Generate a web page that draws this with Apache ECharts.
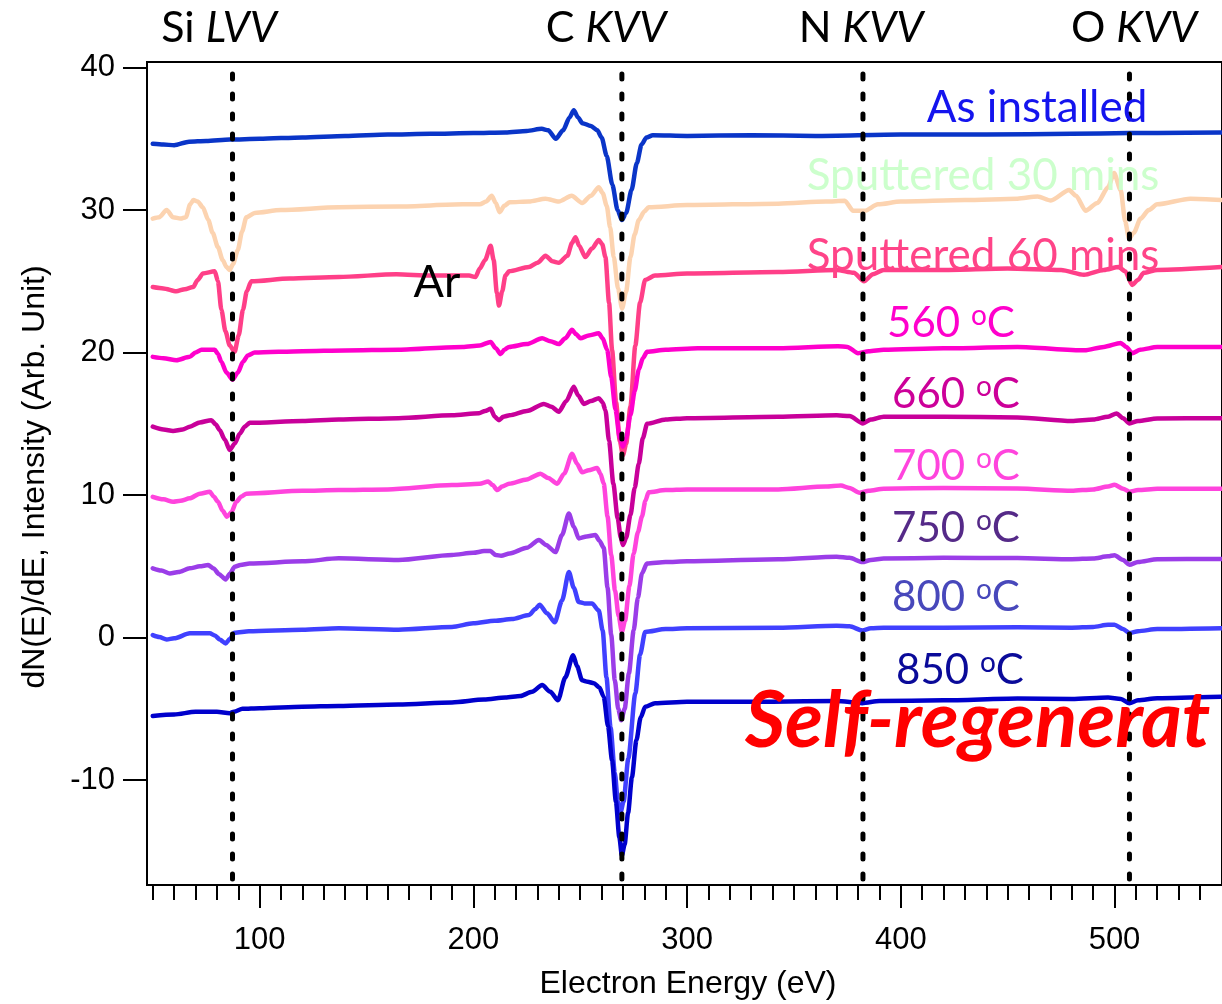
<!DOCTYPE html>
<html><head><meta charset="utf-8">
<script src="https://cdn.jsdelivr.net/npm/echarts@6/dist/echarts.min.js"></script>
<style>html,body{margin:0;padding:0;background:#fff}#c{width:1222px;height:1004px}</style>
</head><body><div id="c"></div>
<script>
// ---- data (energy eV, dN/dE) ----
const asInstalled = [[50,34.65],[55,34.6],[60,34.55],[67,34.8],[75,34.85],[86,34.95],[100,35.0],[120,35.1],[140,35.2],[160,35.3],[180,35.35],[200,35.4],[215,35.45],[225,35.55],[232,35.7],[235,35.6],[238.6,35.0],[242,35.6],[245,36.5],[247,37.0],[249,36.5],[251,36.1],[255,35.9],[258,35.6],[260,35.1],[262.4,33.8],[265,31.8],[267.5,30.0],[269.5,29.3],[271.5,29.8],[274,31.4],[276.5,33.3],[278.7,34.6],[281,35.1],[284,35.25],[300,35.2],[330,35.25],[360,35.2],[400,35.3],[440,35.3],[480,35.35],[507,35.4],[520,35.4],[550,35.45]];
const sputtered30 = [[50,29.4],[53,29.5],[56.5,30.0],[59.5,29.5],[63,29.4],[65.5,29.5],[67.5,30.4],[69,30.7],[71,30.6],[73.4,30.2],[76,29.3],[78,28.4],[80.5,27.4],[82.7,26.5],[84.5,26.0],[86,25.8],[87.5,26.2],[89.8,27.2],[91.8,28.5],[93.8,29.5],[97.7,29.8],[110,30.0],[137,30.2],[165,30.25],[195,30.4],[203,30.4],[206,30.6],[208.6,31.0],[210.5,30.5],[212.3,29.85],[214.5,30.3],[217,30.55],[226,30.6],[233.8,30.8],[240,30.6],[246,31.0],[250.9,30.5],[255,31.0],[258.7,31.6],[260.5,31.2],[262.4,30.3],[264,28.8],[265.7,26.7],[267.7,24.5],[269.6,23.1],[271.5,24.3],[273.5,26.7],[275.5,28.3],[277.4,29.3],[280,29.9],[282,30.2],[300,30.35],[342.7,30.45],[365,30.6],[373.8,30.65],[377.7,29.95],[383.1,29.95],[389.3,30.4],[400,30.6],[430,30.7],[454.6,30.8],[464,30.95],[470.2,30.67],[478.8,31.4],[482,31.0],[486.5,29.96],[492,30.5],[497,31.6],[499.8,32.6],[502.9,31.4],[505,29.2],[506.8,28.0],[509,28.4],[512.2,29.4],[516,30.0],[520,30.4],[535.5,30.8],[550,30.7]];
const sputtered60 = [[50,24.6],[55,24.5],[61,24.3],[65,24.45],[68.9,24.6],[71,25.1],[73.5,25.55],[79,25.7],[80.5,25.0],[82.1,23.0],[84,21.5],[86,20.5],[88.3,20.05],[90.2,21.2],[92.2,23.0],[94,24.3],[96.1,25.0],[114,25.2],[137,25.3],[164,25.5],[180,25.4],[198,25.4],[201,25.3],[203,25.9],[205.5,26.5],[208.1,27.5],[209.5,26.5],[211,24.2],[212,23.3],[213.5,24.3],[215,25.4],[216.7,25.7],[226,26.0],[230,26.3],[233.8,26.8],[237,26.4],[240,26.3],[244,26.8],[246.2,27.7],[247.8,28.1],[249.5,27.5],[252.4,26.7],[255.5,27.3],[258.7,27.9],[260.3,27.6],[261.8,26.7],[263.5,23.5],[264.9,20.2],[266.8,16.5],[268.5,13.8],[270,12.8],[271.5,13.6],[273.5,16.2],[275.8,20.5],[278,23.5],[280.4,25.1],[285,25.4],[300,25.55],[342.7,25.65],[370,25.8],[378,25.6],[382.8,25.0],[387,25.5],[392,25.8],[420,25.8],[450,25.9],[475,25.8],[485.7,25.46],[495,25.8],[502,26.0],[505,25.7],[508.3,24.75],[511,25.1],[513.7,25.6],[520,25.8],[550,26.0]];
const t560 = [[50,19.7],[55,19.6],[61.1,19.47],[67.3,19.7],[70,20.0],[72.8,20.2],[79,20.2],[80.5,19.9],[82.1,19.35],[84.5,18.6],[87.3,18.1],[89.8,18.6],[92.2,19.35],[94.5,19.8],[97.7,20.0],[120,20.1],[140,20.15],[165,20.2],[195,20.4],[203,20.5],[208.1,20.75],[210.5,20.3],[212.8,19.9],[214.5,20.2],[216.7,20.4],[225,20.6],[232.2,21.0],[236,20.8],[240,20.6],[243,21.0],[246.2,21.6],[248,21.3],[250.1,21.0],[254,21.2],[258.7,21.35],[260.5,21.0],[262.6,20.2],[264.5,18.3],[266.5,16.0],[268.5,14.0],[270,13.4],[271.5,14.0],[273.5,15.6],[275.5,17.3],[277.4,18.8],[279.3,19.6],[281.3,20.05],[290,20.2],[305,20.3],[342.7,20.3],[370.6,20.44],[375,20.4],[380,19.96],[385,20.1],[392,20.2],[420,20.3],[454.6,20.39],[486,20.16],[495,20.4],[502.9,20.67],[505.5,20.4],[508.3,19.96],[512,20.2],[520,20.39],[550,20.4]];
const t660 = [[50,14.8],[55,14.6],[59.5,14.5],[64,14.6],[67.3,14.8],[72,15.1],[77.4,15.26],[79.5,14.95],[81.3,14.56],[83.7,13.9],[86,13.16],[88.3,13.6],[90.7,14.3],[93,14.8],[95.3,15.07],[120,15.2],[137,15.3],[165,15.4],[190,15.6],[202.7,15.75],[205.5,15.9],[208.1,16.05],[210,15.5],[212,15.26],[214,15.5],[217,15.6],[225,15.9],[233,16.4],[236.5,16.2],[240,15.85],[243.5,16.6],[247,17.6],[249,17.0],[251.7,16.4],[255,16.6],[258.7,16.8],[260.5,16.5],[261.8,15.96],[263.5,13.8],[265.5,10.8],[267.5,8.4],[269,7.0],[270,6.5],[271.5,7.0],[273.5,8.6],[275.5,10.5],[277.4,12.2],[279.3,14.0],[281.3,15.0],[290,15.3],[300,15.4],[342.7,15.5],[370,15.6],[376,15.55],[382.3,15.03],[386,15.3],[392,15.5],[420,15.5],[454.6,15.45],[480,15.2],[490,15.3],[497,15.5],[501,15.73],[504,15.4],[507,15.03],[511,15.2],[520,15.38],[550,15.4]];
const t700 = [[50,9.88],[55,9.7],[59.5,9.53],[63,9.6],[67.3,9.77],[72,10.1],[76.7,10.23],[78.5,9.9],[80.5,9.53],[82.7,8.9],[84.7,8.48],[86.8,8.8],[89.1,9.53],[91.5,9.9],[93.8,10.1],[120,10.3],[137,10.35],[160,10.4],[190,10.7],[203,10.8],[207,10.95],[209,10.7],[211.2,10.35],[213.5,10.6],[216.7,10.8],[225,11.1],[231.4,11.5],[235,11.2],[239.2,10.8],[242.5,11.5],[246.2,12.9],[248.5,12.2],[250.9,11.6],[254,11.75],[257.9,11.9],[259.5,11.5],[261,10.8],[262.8,8.5],[264.5,5.8],[266.3,3.3],[268,1.5],[269.5,0.4],[271,1.2],[273,3.6],[275,5.9],[277,7.4],[278.9,8.5],[280.5,9.6],[282,10.2],[290,10.35],[300,10.4],[342.7,10.4],[365,10.6],[372,10.67],[376,10.5],[380.7,10.17],[385,10.3],[392,10.45],[420,10.5],[454.6,10.46],[480,10.3],[490,10.4],[497,10.6],[500,10.72],[504,10.45],[507,10.24],[511,10.35],[520,10.45],[550,10.45]];
const t750 = [[50,4.86],[54,4.7],[58,4.5],[62,4.6],[67.3,4.86],[72,5.0],[75.9,5.09],[78.5,4.85],[81,4.45],[84.1,4.08],[86.2,4.5],[88.3,4.97],[91,5.1],[95.3,5.2],[120,5.35],[137,5.56],[165,5.45],[190,5.8],[200,5.95],[205,6.07],[208,6.07],[210.5,5.8],[213,5.74],[217,5.9],[225,6.3],[230.7,6.85],[234,6.5],[238.4,6.0],[241.5,7.2],[244.7,8.7],[247,7.8],[249.3,6.96],[253,7.1],[257.1,7.2],[259,6.8],[261,6.3],[262.8,3.5],[264.5,0.2],[266.2,-3.0],[267.8,-5.0],[269.2,-5.8],[270.8,-5.0],[272.8,-2.5],[275,0.5],[277,2.8],[278.9,4.5],[281.2,5.2],[290,5.3],[300,5.35],[342.7,5.49],[370,5.68],[376,5.6],[382,5.3],[386,5.45],[392,5.55],[420,5.6],[454.6,5.58],[480,5.5],[490,5.55],[497,5.7],[500,5.78],[504,5.45],[507,5.11],[511,5.3],[520,5.5],[550,5.52]];
const t800 = [[50,0.18],[53,0.05],[56.5,-0.13],[60,-0.05],[67.3,0.3],[76.7,0.3],[79,0.15],[81.5,-0.15],[84.1,-0.41],[86,-0.1],[88.3,0.34],[95,0.45],[120,0.55],[137,0.65],[165,0.55],[190,0.75],[200,1.0],[210,1.18],[218,1.3],[226,1.58],[229,2.0],[231,2.3],[234.5,1.7],[238.1,1.07],[241.5,2.6],[244.7,4.6],[247,3.5],[249.3,2.5],[252,2.4],[255.5,2.4],[258.7,1.9],[260.5,0.5],[262.3,-2.8],[264.2,-6.3],[266.2,-9.5],[267.6,-11.5],[268.8,-12.3],[270.3,-11.5],[272.5,-8.5],[275.8,-3.9],[278,-1.2],[280.4,0.4],[290,0.6],[300,0.65],[342.7,0.69],[370,0.83],[376,0.8],[382,0.5],[386,0.65],[392,0.7],[420,0.7],[454.6,0.72],[480,0.7],[490,0.75],[497,0.9],[500,0.9],[504,0.6],[507,0.32],[511,0.45],[520,0.6],[550,0.66]];
const t850 = [[50,-5.5],[60,-5.4],[70,-5.2],[80,-5.2],[86,-5.3],[88,-5.2],[92,-5.0],[100,-4.95],[120,-4.85],[137,-4.8],[165,-4.7],[190,-4.55],[205,-4.35],[215,-4.2],[222,-4.1],[227.5,-3.8],[232.2,-3.33],[236,-3.8],[239.6,-4.4],[243,-2.8],[246.7,-1.23],[248.5,-2.0],[250.9,-3.0],[253.5,-3.1],[256.4,-3.2],[259,-3.5],[261,-4.15],[263,-6.2],[264.9,-8.6],[266.7,-11.5],[268.3,-14.0],[269.5,-15.3],[270.8,-14.5],[272.4,-12.3],[274.2,-9.8],[276.3,-7.2],[278.3,-5.6],[280.4,-4.86],[285,-4.6],[300,-4.5],[340,-4.5],[370,-4.45],[382,-4.6],[390,-4.45],[420,-4.4],[454.6,-4.27],[480,-4.3],[497,-4.2],[503,-4.3],[507,-4.6],[511,-4.4],[520,-4.25],[550,-4.15]];

const seriesNames = ['As installed','Sputtered 30 mins','Sputtered 60 mins','560 oC','660 oC','700 oC','750 oC','800 oC','850 oC'];
const seriesData = [asInstalled, sputtered30, sputtered60, t560, t660, t700, t750, t800, t850];
const lineColors = ['#0a35c8','#fcd3b0','#ff3f88','#ff00cc','#c8009a','#ff44dd','#9b3de8','#4040ff','#0000cc'];
const labelColors = ['#1414ee','#ccffcc','#ff4488','#ff00cc','#cc0099','#ff44dd','#552a88','#4848bb','#0a0a99'];

const augerEnergies = [87.3, 269.5, 382.3, 507];
const augerElements = ['Si','C','N','O'];
const augerTransitions = ['LVV','KVV','KVV','KVV'];

const xMajorTicks = [100,200,300,400,500];
const xMinorTicks = [50,60,70,80,90,110,120,130,140,150,160,170,180,190,210,220,230,240,250,260,270,280,290,310,320,330,340,350,360,370,380,390,410,420,430,440,450,460,470,480,490,510,520,530,540];
const yTicks = [-10,0,10,20,30,40];
const xRange = [47.3, 550.3];
const yRange = [-17.36, 40.39];

const chart = echarts.init(document.getElementById('c'));
const axisFont = 'Liberation Sans';
const lblFont = 'Lato';

const series = seriesData.map((d, i) => ({
  type: 'line', name: seriesNames[i], data: d, showSymbol: false, smooth: 0.25, smoothMonotone: 'x',
  lineStyle: { color: lineColors[i], width: 4.5, cap: 'round', join: 'round' }, z: 2 + i, silent: true
}));
augerEnergies.forEach((e) => {
  series.push({ type: 'line', data: [[e, yRange[0]], [e, yRange[1]]], showSymbol: false, silent: true, z: 20,
    lineStyle: { color: '#000', width: 5, type: [5, 15], cap: 'round', dashOffset: -6 } });
});

// label positions (pixels)
const curveLabelPos = [[1037,108],[983,176],[983,256],[951,323],[956,394],[956,466],[956,528],[956,597],[960,670]];
const graphics = [];
seriesNames.forEach((n, i) => {
  const m = n.match(/^(\d+) oC$/);
  if (m) {
    graphics.push({ type: 'text', x: curveLabelPos[i][0], y: curveLabelPos[i][1], z: 50,
      style: { text: '{n|' + m[1] + ' }{s|o}{n|C}', align: 'center', verticalAlign: 'middle',
        rich: { n: { fontSize: 42, fontFamily: lblFont, fill: labelColors[i] },
                s: { fontSize: 28, fontFamily: lblFont, fill: labelColors[i], verticalAlign: 'top' } } } });
  } else {
    graphics.push({ type: 'text', x: curveLabelPos[i][0], y: curveLabelPos[i][1], z: 50,
      style: { text: n, align: 'center', verticalAlign: 'middle', fill: labelColors[i], font: '44px ' + lblFont } });
  }
});
const topLabelX = [219, 606, 861, 1134];
augerElements.forEach((el, i) => {
  graphics.push({ type: 'text', x: topLabelX[i], y: 28, z: 50,
    style: { text: '{n|' + el + ' }{i|' + augerTransitions[i] + '}', align: 'center', verticalAlign: 'middle',
      rich: { n: { fontSize: 43, fontFamily: lblFont, fill: '#000' }, i: { fontSize: 43, fontFamily: lblFont, fontStyle: 'italic', fill: '#000' } } } });
});
graphics.push({ type: 'text', x: 437, y: 282, z: 50, style: { text: 'Ar', align: 'center', verticalAlign: 'middle', fill: '#000', font: '45px ' + lblFont } });
graphics.push({ type: 'text', x: 745, y: 722, z: 50, style: { text: 'Self-regenerat', align: 'left', verticalAlign: 'middle', fill: '#ff0000', font: 'italic bold 78px ' + lblFont } });
graphics.push({ type: 'text', x: 35, y: 477, rotation: Math.PI / 2, z: 50, style: { text: 'dN(E)/dE, Intensity (Arb. Unit)', align: 'center', verticalAlign: 'middle', fill: '#000', font: '32px ' + axisFont } });
graphics.push({ type: 'text', x: 688, y: 984, z: 50, style: { text: 'Electron Energy (eV)', align: 'center', verticalAlign: 'middle', fill: '#000', font: '32px ' + axisFont } });

chart.setOption({
  animation: false,
  backgroundColor: '#fff',
  grid: { left: 147, right: -3, top: 62, bottom: 119, show: true, borderColor: '#000', borderWidth: 2, backgroundColor: 'transparent' },
  xAxis: [
    { type: 'value', min: xRange[0], max: xRange[1], position: 'bottom',
      axisLine: { show: true, onZero: false, lineStyle: { color: '#000', width: 2 } },
      axisTick: { show: true, customValues: xMajorTicks, length: 23, lineStyle: { color: '#000', width: 2 } },
      axisLabel: { show: true, customValues: xMajorTicks, fontSize: 31, fontFamily: axisFont, color: '#000', margin: 40 },
      splitLine: { show: false } },
    { type: 'value', min: xRange[0], max: xRange[1], position: 'bottom',
      axisLine: { show: false, onZero: false },
      axisTick: { show: true, customValues: xMinorTicks, length: 15, lineStyle: { color: '#000', width: 2 } },
      axisLabel: { show: false }, splitLine: { show: false } }
  ],
  yAxis: { type: 'value', min: yRange[0], max: yRange[1],
    axisLine: { show: true, onZero: false, lineStyle: { color: '#000', width: 2 } },
    axisTick: { show: true, customValues: yTicks, length: 24, lineStyle: { color: '#000', width: 2 } },
    axisLabel: { show: true, customValues: yTicks, fontSize: 31, fontFamily: axisFont, color: '#000', margin: 32 },
    splitLine: { show: false } },
  series: series,
  graphic: graphics
});
</script></body></html>
